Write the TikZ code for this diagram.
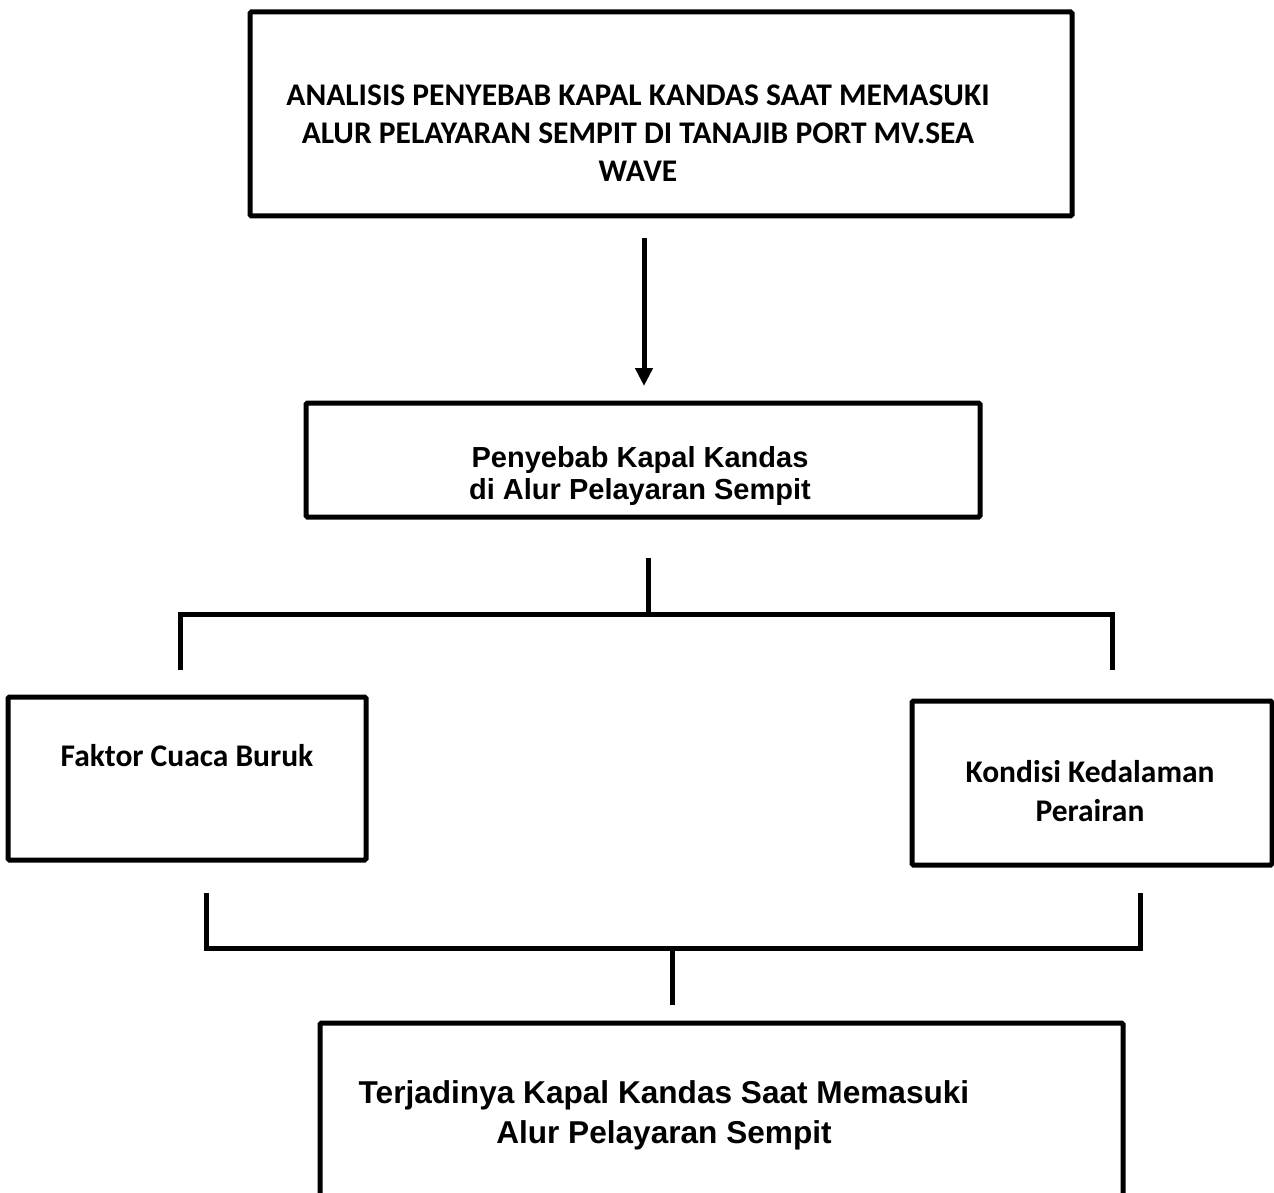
\documentclass[tikz,border=0pt]{standalone}
\usepackage{fontspec}
\setmainfont{Carlito}
\newfontfamily\arialf{Liberation Sans}
\usetikzlibrary{arrows.meta}
\begin{document}
\begin{tikzpicture}[x=1pt,y=-1pt,
  box/.style={draw=black,line width=5pt,rounded corners=1.5pt,inner sep=0pt},
  conn/.style={draw=black,line width=5pt},
  cal/.style={font=\fontsize{31.5}{38}\selectfont\bfseries,align=center,inner sep=0pt},
  ari/.style={font=\arialf\bfseries,align=center,inner sep=0pt}]
\clip (0,0) rectangle (1274,1193);
\fill[white] (0,0) rectangle (1274,1193);
% boxes
\draw[box] (250,12) rectangle (1072,216);
\node[cal] (ttop) at (638,133) {ANALISIS PENYEBAB KAPAL KANDAS SAAT MEMASUKI\\ALUR PELAYARAN SEMPIT DI TANAJIB PORT MV.SEA\\WAVE};
\node[box,minimum width=674pt,minimum height=114pt] (mid) at (643,460) {};
\node[ari,font=\arialf\bfseries\fontsize{29}{32}\selectfont] (tmid) at (640,476) {Penyebab Kapal Kandas\\di Alur Pelayaran Sempit};
\node[box,minimum width=358pt,minimum height=163pt] (left) at (187,778.5) {};
\node[cal] (tleft) at (187,756) {Faktor Cuaca Buruk};
\node[box,minimum width=360pt,minimum height=164pt] (right) at (1092,783) {};
\node[cal,font=\fontsize{31.5}{39}\selectfont\bfseries] (tright) at (1090,791) {Kondisi Kedalaman\\Perairan};
\node[box,minimum width=803pt,minimum height=260pt] (bot) at (721.5,1153) {};
\node[ari,font=\arialf\bfseries\fontsize{31.6}{40}\selectfont] (tbot) at (664,1115) {Terjadinya Kapal Kandas Saat Memasuki\\Alur Pelayaran Sempit};
% connectors
\coordinate (a1) at (644,238);
\coordinate (a2) at (644,386);
\draw[conn,-{Triangle[width=17pt,length=18pt]}] (a1) -- (a2);
\coordinate (b0) at (648,558);
\coordinate (b1) at (648,614);
\coordinate (bl) at (180,670);
\coordinate (br) at (1112,670);
\draw[conn] (b0) -- (b1);
\draw[conn] (bl) |- (b1) -| (br);
\coordinate (c0) at (672,1005);
\coordinate (c1) at (672,948);
\coordinate (cl) at (206,893);
\coordinate (cr) at (1140,893);
\draw[conn] (c0) -- (c1);
\draw[conn] (cl) |- (c1) -| (cr);
\end{tikzpicture}
\end{document}
